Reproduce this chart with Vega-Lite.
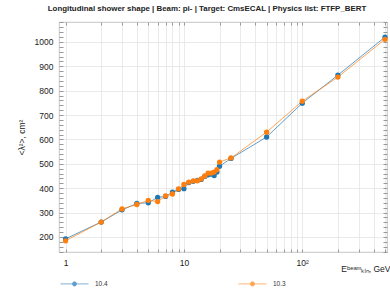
{
  "$schema": "https://vega.github.io/schema/vega-lite/v6.json",
  "width": 328,
  "height": 230,
  "autosize": "none",
  "padding": {"left": 59, "top": 22, "right": 3, "bottom": 42},
  "config": {"view": {"stroke": "#b8b8b8", "strokeWidth": 0.8}, "font": "Liberation Sans"},
  "title": {
    "text": "Longitudinal shower shape | Beam: pi- | Target: CmsECAL | Physics list: FTFP_BERT",
    "fontSize": 7.9,
    "fontWeight": "bold",
    "color": "#222",
    "dx": -16,
    "offset": 6
  },
  "data": {
    "values": [
      {"E": 1, "v": "10.4", "r2": 192},
      {"E": 2, "v": "10.4", "r2": 261},
      {"E": 3, "v": "10.4", "r2": 311},
      {"E": 4, "v": "10.4", "r2": 337},
      {"E": 5, "v": "10.4", "r2": 340},
      {"E": 6, "v": "10.4", "r2": 362},
      {"E": 7, "v": "10.4", "r2": 366},
      {"E": 8, "v": "10.4", "r2": 384},
      {"E": 9, "v": "10.4", "r2": 395},
      {"E": 10, "v": "10.4", "r2": 398},
      {"E": 11, "v": "10.4", "r2": 423},
      {"E": 12, "v": "10.4", "r2": 428},
      {"E": 13, "v": "10.4", "r2": 432},
      {"E": 14, "v": "10.4", "r2": 436},
      {"E": 15, "v": "10.4", "r2": 448},
      {"E": 16, "v": "10.4", "r2": 455},
      {"E": 17, "v": "10.4", "r2": 458},
      {"E": 18, "v": "10.4", "r2": 452},
      {"E": 19, "v": "10.4", "r2": 466},
      {"E": 20, "v": "10.4", "r2": 490},
      {"E": 25, "v": "10.4", "r2": 522},
      {"E": 50, "v": "10.4", "r2": 610},
      {"E": 100, "v": "10.4", "r2": 749},
      {"E": 200, "v": "10.4", "r2": 864},
      {"E": 500, "v": "10.4", "r2": 1020},
      {"E": 1, "v": "10.3", "r2": 184},
      {"E": 2, "v": "10.3", "r2": 261},
      {"E": 3, "v": "10.3", "r2": 315},
      {"E": 4, "v": "10.3", "r2": 333},
      {"E": 5, "v": "10.3", "r2": 350},
      {"E": 6, "v": "10.3", "r2": 345},
      {"E": 7, "v": "10.3", "r2": 368},
      {"E": 8, "v": "10.3", "r2": 376},
      {"E": 9, "v": "10.3", "r2": 397},
      {"E": 10, "v": "10.3", "r2": 415},
      {"E": 11, "v": "10.3", "r2": 425},
      {"E": 12, "v": "10.3", "r2": 430},
      {"E": 13, "v": "10.3", "r2": 430},
      {"E": 14, "v": "10.3", "r2": 438},
      {"E": 15, "v": "10.3", "r2": 450},
      {"E": 16, "v": "10.3", "r2": 462},
      {"E": 17, "v": "10.3", "r2": 462},
      {"E": 18, "v": "10.3", "r2": 466},
      {"E": 19, "v": "10.3", "r2": 476},
      {"E": 20, "v": "10.3", "r2": 507},
      {"E": 25, "v": "10.3", "r2": 524},
      {"E": 50, "v": "10.3", "r2": 630},
      {"E": 100, "v": "10.3", "r2": 757},
      {"E": 200, "v": "10.3", "r2": 856},
      {"E": 500, "v": "10.3", "r2": 1011}
    ]
  },
  "encoding": {
    "color": {
      "field": "v",
      "type": "nominal",
      "scale": {"domain": ["10.4", "10.3"], "range": ["#1f77b4", "#ff7f0e"]},
      "legend": {
        "title": null,
        "orient": "none",
        "legendX": 1,
        "legendY": 247,
        "direction": "horizontal",
        "columns": 2,
        "columnPadding": 128,
        "padding": 0,
        "symbolType": "M-1,0L1,0M0.15,0A0.15,0.15,0,1,1,-0.15,0A0.15,0.15,0,1,1,0.15,0Z",
        "symbolSize": 784,
        "symbolStrokeWidth": 0.8,
        "labelFontSize": 6.5,
        "labelColor": "#333",
        "labelOffset": 6,
        "encode": {
          "symbols": {
            "update": {
              "fill": {"scale": "color", "field": "value"},
              "stroke": {"scale": "color", "field": "value"},
              "opacity": {"value": 1}
            }
          }
        }
      }
    }
  },
  "layer": [
    {
      "mark": {"type": "line", "strokeWidth": 1, "opacity": 0.7},
      "encoding": {
        "x": {
          "field": "E",
          "type": "quantitative",
          "scale": {"type": "log", "domain": [0.88, 520], "nice": false},
          "axis": {
            "orient": "bottom",
            "values": [1, 2, 3, 4, 5, 6, 7, 8, 9, 10, 20, 30, 40, 50, 60, 70, 80, 90, 100, 200, 300, 400, 500],
            "labelExpr": "datum.value == 1 ? '1' : datum.value == 10 ? '10' : datum.value == 100 ? '10²' : ''",
            "labelOverlap": false,
            "labelFlush": false,
            "labelFontSize": 8.5,
            "labelColor": "#222",
            "labelPadding": 9,
            "tickSize": -3,
            "tickColor": "#999",
            "domain": false,
            "grid": true,
            "gridColor": "#e4e4e4",
            "gridWidth": 0.8,
            "title": "Eᵇᵉᵃᵐₖᵢₙ, GeV",
            "titleFontSize": 8.5,
            "titleFontWeight": "normal",
            "titleColor": "#222",
            "titleAnchor": "end",
            "titleAlign": "right",
            "titleX": 331,
            "titleY": 19,
            "titleBaseline": "alphabetic"
          }
        },
        "y": {
          "field": "r2",
          "type": "quantitative",
          "scale": {"domain": [138, 1082], "nice": false, "zero": false},
          "axis": {
            "orient": "left",
            "values": [140, 160, 180, 200, 220, 240, 260, 280, 300, 320, 340, 360, 380, 400, 420, 440, 460, 480, 500, 520, 540, 560, 580, 600, 620, 640, 660, 680, 700, 720, 740, 760, 780, 800, 820, 840, 860, 880, 900, 920, 940, 960, 980, 1000, 1020, 1040, 1060, 1080],
            "labelExpr": "datum.value % 100 == 0 ? datum.label : ''",
            "labelOverlap": false,
            "labelFontSize": 8.5,
            "labelColor": "#222",
            "labelPadding": 10,
            "tickSize": -4,
            "tickColor": "#999",
            "domain": false,
            "grid": true,
            "gridColor": "#e4e4e4",
            "gridWidth": 0.8,
            "gridOpacity": {"condition": {"test": "datum.value % 100 == 0", "value": 1}, "value": 0},
            "format": "d",
            "title": "<λ²>, cm²",
            "titleFontSize": 8.5,
            "titleFontWeight": "normal",
            "titleColor": "#222",
            "titlePadding": 8
          }
        },
        "detail": {"field": "v"}
      }
    },
    {
      "mark": {"type": "point", "filled": true, "size": 28, "opacity": 1},
      "encoding": {
        "x": {
          "field": "E",
          "type": "quantitative",
          "axis": {
            "orient": "top",
            "values": [1, 2, 3, 4, 5, 6, 7, 8, 9, 10, 20, 30, 40, 50, 60, 70, 80, 90, 100, 200, 300, 400, 500],
            "labels": false,
            "tickSize": -3,
            "tickColor": "#999",
            "domain": false,
            "grid": false,
            "title": null
          }
        },
        "y": {
          "field": "r2",
          "type": "quantitative",
          "axis": {
            "orient": "right",
            "values": [140, 160, 180, 200, 220, 240, 260, 280, 300, 320, 340, 360, 380, 400, 420, 440, 460, 480, 500, 520, 540, 560, 580, 600, 620, 640, 660, 680, 700, 720, 740, 760, 780, 800, 820, 840, 860, 880, 900, 920, 940, 960, 980, 1000, 1020, 1040, 1060, 1080],
            "labels": false,
            "tickSize": -4,
            "tickColor": "#999",
            "domain": false,
            "grid": false,
            "title": null
          }
        }
      }
    }
  ],
  "resolve": {"axis": {"x": "independent", "y": "independent"}}
}
